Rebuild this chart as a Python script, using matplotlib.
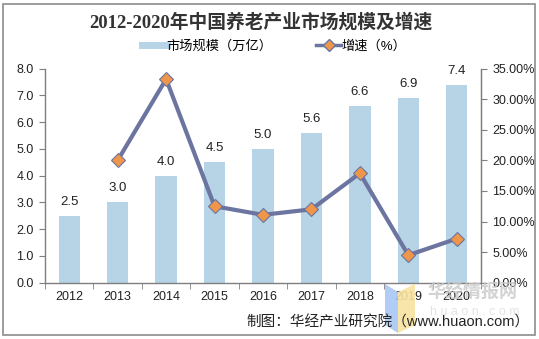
import matplotlib
matplotlib.use("Agg")
import matplotlib.pyplot as plt
from matplotlib.patches import Rectangle, Polygon
from matplotlib.lines import Line2D
import numpy as np

plt.rcParams['font.family'] = ['Liberation Sans', 'Noto Sans CJK SC', 'DejaVu Sans']

years = ['2012', '2013', '2014', '2015', '2016', '2017', '2018', '2019', '2020']
market = [2.5, 3.0, 4.0, 4.5, 5.0, 5.6, 6.6, 6.9, 7.4]
growth = [None, 20.0, 33.3, 12.5, 11.1, 12.0, 17.9, 4.5, 7.2]

bar_color = '#B7D3E6'
line_color = '#6B75A0'
marker_color = '#F0964B'
grey = '#7F7F7F'

W, H = 539, 339
fig = plt.figure(figsize=(W / 100, H / 100), dpi=100)
fig.patches.append(Rectangle((3 / W, 4 / H), 532 / W, 331 / H, transform=fig.transFigure,
                             fill=False, edgecolor='#8C8C8C', linewidth=1.2))

ax = fig.add_axes([45 / W, 1 - 282.7 / H, (481 - 45) / W, (282.7 - 68.7) / H])
x = np.arange(len(years))
ax.bar(x, market, width=0.44, color=bar_color, zorder=2)
for xi, v in zip(x, market):
    ax.text(xi, v + 0.3, f'{v:.1f}', ha='center', va='bottom', fontsize=9.5, color='#222222')
ax.set_ylim(0, 8)
ax.set_xlim(-0.5, len(years) - 0.5)
ax.set_yticks(np.arange(0, 8.01, 1.0))
ax.set_yticklabels([f'{v:.1f}' for v in np.arange(0, 8.01, 1.0)], fontsize=9, color='#222222')
ax.set_xticks(x)
ax.set_xticklabels(years, fontsize=9, color='#222222')
ax.set_xticks(np.arange(-0.5, len(years), 1.0), minor=True)
ax.tick_params(axis='x', which='major', length=0, pad=6)
ax.tick_params(axis='x', which='minor', length=4, color=grey, direction='out')
ax.tick_params(axis='y', length=4, color=grey, direction='out', pad=4)
ax.spines['top'].set_visible(False)
for s in ['left', 'bottom', 'right']:
    ax.spines[s].set_color(grey)
    ax.spines[s].set_linewidth(1.0)

ax2 = ax.twinx()
gx = [xi for xi, g in zip(x, growth) if g is not None]
gy = [g for g in growth if g is not None]
ax2.plot(gx, gy, color=line_color, linewidth=3, marker='D', markersize=7.5,
         markerfacecolor=marker_color, markeredgecolor=line_color, markeredgewidth=0.8, zorder=3)
ax2.set_ylim(0, 35)
ax2.set_yticks(np.arange(0, 35.01, 5))
ax2.set_yticklabels([f'{v:.2f}%' for v in np.arange(0, 35.01, 5)], fontsize=9, color='#222222')
ax2.tick_params(axis='y', length=4, color=grey, direction='out', pad=4)
for s in ['top', 'left', 'bottom']:
    ax2.spines[s].set_visible(False)
ax2.spines['right'].set_color(grey)

fig.text(261 / W, 1 - 22 / H, '2012-2020年中国养老产业市场规模及增速', ha='center', va='center',
         fontsize=13.5, fontweight='bold', family=['Liberation Serif', 'Noto Sans CJK SC'], color='#333333')

handles = [Line2D([0], [0], color=bar_color, linewidth=5),
           Line2D([0], [0], color=line_color, linewidth=2.5, marker='D', markersize=6,
                  markerfacecolor=marker_color, markeredgecolor=line_color)]
fig.legend(handles, ['市场规模（万亿）', '增速（%）'], loc='center', bbox_to_anchor=(274 / W, 1 - 46 / H),
           ncol=2, frameon=False, fontsize=9.5, handlelength=1.9, handletextpad=0.0, columnspacing=3.3)

# watermark
fig.patches.append(Polygon([[385 / W, 1 - 284 / H], [398 / W, 1 - 292 / H], [398 / W, 1 - 333 / H],
                            [385 / W, 1 - 325 / H]], closed=True, transform=fig.transFigure,
                           facecolor='#A9C8F5', edgecolor='none', alpha=0.9))
fig.patches.append(Polygon([[398 / W, 1 - 292 / H], [415 / W, 1 - 284 / H], [415 / W, 1 - 325 / H],
                            [398 / W, 1 - 333 / H]], closed=True, transform=fig.transFigure,
                           facecolor='#F8E3A0', edgecolor='none', alpha=0.9))
fig.text(472 / W, 1 - 292 / H, '华经情报网', ha='center', va='center', fontsize=13, fontweight='bold',
         color='#C8C8C8', family=['Noto Sans CJK SC'], alpha=0.8)
fig.text(475 / W, 1 - 312 / H, 'h u a o n . c o m', ha='center', va='center', fontsize=9,
         color='#DDDDDD', alpha=0.8)

fig.text(530 / W, 1 - 322 / H, '制图：华经产业研究院（www.huaon.com）', ha='right', va='center',
         fontsize=10.5, color='#222222')

fig.savefig('out.png', dpi=100)
